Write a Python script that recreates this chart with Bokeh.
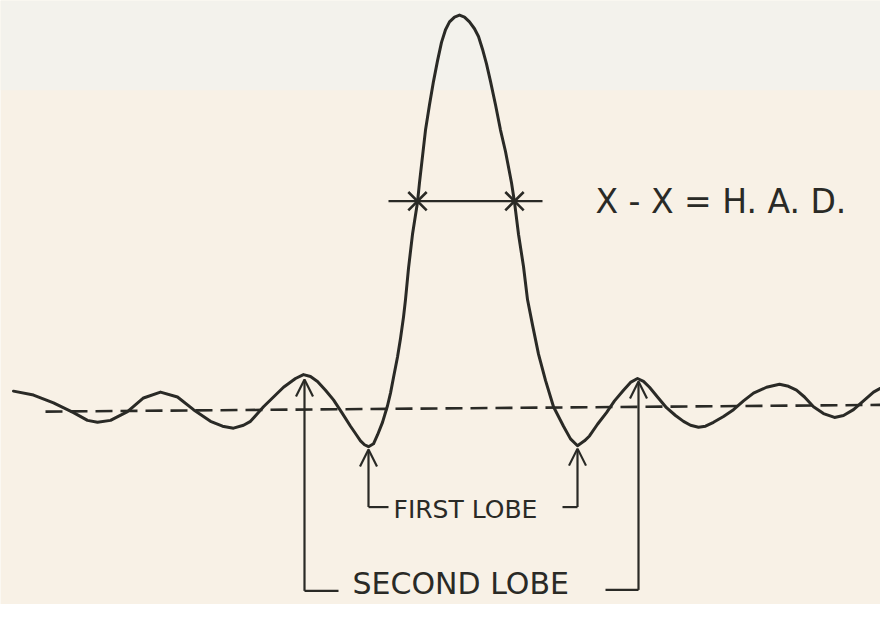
from bokeh.plotting import figure
from bokeh.models import Range1d, Arrow, OpenHead
from bokeh.core.properties import value
from bokeh.embed import file_html
from bokeh.resources import INLINE

# ---- data (x right, y downward as on the sheet) ----
curve_x = [13, 33, 53, 73, 87, 97, 110, 127, 143, 160, 177, 193, 210, 222, 233,
           243, 250, 263, 283, 295, 303, 310, 317, 325, 333, 342, 350, 356, 360,
           364, 368, 373, 377, 382, 387, 390, 393, 397, 400, 403, 405, 408, 412,
           417, 419, 422, 425, 429, 433, 437, 441, 445, 449, 454, 459, 464, 469,
           474, 478, 482, 486, 490, 495, 500, 505, 511, 514, 518, 523, 527, 532,
           538, 545, 553, 563, 570, 577, 584, 589, 597, 606, 614, 623, 630, 637,
           643, 649, 657, 666, 675, 683, 690, 698, 705, 713, 723, 733, 743, 753,
           766, 779, 788, 796, 804, 813, 823, 834, 843, 853, 863, 873, 885, 896]
curve_y = [401, 405, 413, 423, 431, 433, 431, 422, 408, 402, 407, 420, 432, 437, 439,
           436, 432, 417, 397, 388, 384, 386, 391, 400, 410, 424, 437, 446, 452,
           456, 458, 455, 446, 433, 416, 403, 387, 366, 347, 325, 307, 275, 240,
           207, 187, 160, 133, 107, 83, 62, 43, 30, 22, 17, 15, 17, 22,
           29, 37, 50, 65, 83, 107, 133, 155, 187, 207, 240, 273, 307, 333,
           363, 390, 417, 437, 450, 457, 452, 447, 435, 423, 411, 400, 392, 388,
           391, 397, 407, 418, 426, 432, 436, 438, 437, 433, 427, 420, 411, 403,
           397, 394, 396, 400, 407, 417, 424, 428, 426, 420, 411, 402, 395, 391]

baseline_x = [45, 896]
baseline_y = [422, 415]

had_x = [388, 542]
had_y = [206, 206]
had_marks_x = [417, 514]
had_marks_y = [206, 206]

arrow_tip_x = [368, 577, 304, 638]
arrow_tip_y = [461, 460, 389, 391]
bracket_y = [520, 520, 606, 605]
bracket_end_x = [388, 562, 338, 605]

label_text = ["X - X = H. A. D.", "FIRST LOBE", "SECOND LOBE"]
label_x = [595, 393, 352]
label_y = [206, 522, 598]
label_size = ["33px", "25px", "30px"]

INK = "#2a2a26"

p = figure(width=880, height=604, output_backend="svg", toolbar_location=None,
           x_range=Range1d(0, 880), y_range=Range1d(620, 0),
           min_border=0, background_fill_color="#f8f1e6",
           border_fill_color="#f8f1e6", outline_line_color=None)
p.axis.visible = False
p.grid.visible = False

# lighter band at top of the sheet
p.quad(left=[0], right=[896], top=[0], bottom=[92], fill_color="#f3f2ec",
       line_color=None)

# dashed reference level
p.line(baseline_x, baseline_y, line_color=INK, line_width=2.6, line_dash="17 8")

# main curve
p.line(curve_x, curve_y, line_color=INK, line_width=3, line_join="round",
       line_cap="round")

# half-amplitude marks
p.line(had_x, had_y, line_color=INK, line_width=2.2)
p.scatter(had_marks_x, had_marks_y, marker="x", size=26, line_color=INK,
          line_width=2.6)

# arrows with brackets
for tx, ty, by, ex in zip(arrow_tip_x, arrow_tip_y, bracket_y, bracket_end_x):
    p.line([ex, tx], [by, by], line_color=INK, line_width=2.2)
    p.add_layout(Arrow(end=OpenHead(size=17, line_color=INK, line_width=2.2),
                       x_start=tx, y_start=by, x_end=tx, y_end=ty,
                       line_color=INK, line_width=2.2))

# labels
for t, x, y, s in zip(label_text, label_x, label_y, label_size):
    p.text(x=[x], y=[y], text=[t], text_color=INK, text_font=value("DejaVu Sans"),
           text_font_size=s, text_align="left", text_baseline="middle")

open("out.html", "w").write(file_html(p, INLINE))
